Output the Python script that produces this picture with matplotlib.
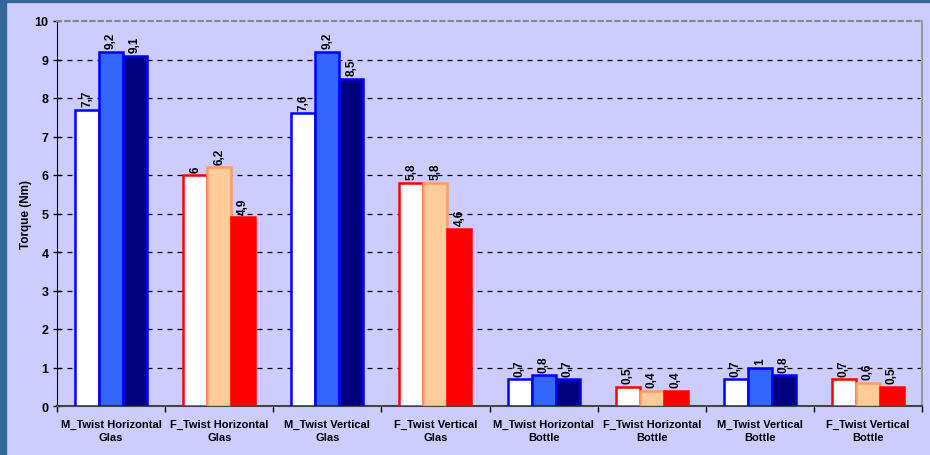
import matplotlib.pyplot as plt
import matplotlib.patches as patches
import numpy as np

plt.rcParams['font.family'] = ['Liberation Sans', 'DejaVu Sans']

# Torque per test setup, three trials each
categories = ['M_Twist Horizontal\nGlas', 'F_Twist Horizontal\nGlas',
              'M_Twist Vertical\nGlas', 'F_Twist Vertical\nGlas',
              'M_Twist Horizontal\nBottle', 'F_Twist Horizontal\nBottle',
              'M_Twist Vertical\nBottle', 'F_Twist Vertical\nBottle']
trial1 = [7.7, 6.0, 7.6, 5.8, 0.7, 0.5, 0.7, 0.7]
trial2 = [9.2, 6.2, 9.2, 5.8, 0.8, 0.4, 1.0, 0.6]
trial3 = [9.1, 4.9, 8.5, 4.6, 0.7, 0.4, 0.8, 0.5]

# colours for male (M_) and female (F_) groups
m_fill = ['white', '#3366FF', '#000080']
f_fill = ['white', '#FFCC99', '#FF0000']
m_edge = ['#0000FF', '#0000FF', '#0000FF']
f_edge = ['#FF0000', '#FF9966', '#FF0000']

bg = '#CCCCFF'
fig = plt.figure(figsize=(9.3, 4.56), dpi=100, facecolor=bg)

# dark frame strips on the left and top
fig.add_artist(patches.Rectangle((0, 0), 6 / 930, 1, transform=fig.transFigure,
                                 color='#336699', zorder=0))
fig.add_artist(patches.Rectangle((0, 1 - 3 / 456), 1, 3 / 456, transform=fig.transFigure,
                                 color='#336699', zorder=0))

ax = fig.add_axes([57 / 930, 1 - 407 / 456, 865 / 930, 385 / 456])
ax.set_facecolor(bg)

x = np.arange(len(categories))
w = 0.222
series = [trial1, trial2, trial3]
for k, vals in enumerate(series):
    for i, v in enumerate(vals):
        male = categories[i].startswith('M_')
        fc = m_fill[k] if male else f_fill[k]
        ec = m_edge[k] if male else f_edge[k]
        xpos = x[i] + (k - 1) * w
        ax.bar(xpos, v, width=w, color=fc, edgecolor=ec, linewidth=1.8, zorder=3)
        ax.text(xpos, v + 0.09, f'{v:g}'.replace('.', ','), rotation=90,
                ha='center', va='bottom', fontsize=8.5, fontweight='bold', zorder=4)

ax.set_xlim(-0.5, len(categories) - 0.5)
ax.set_ylim(0, 10)
ax.set_yticks(range(0, 11))
ax.tick_params(axis='y', labelsize=9, length=6, direction='inout', width=1, pad=3)
for lab in ax.get_yticklabels():
    lab.set_fontweight('bold')

# category labels between boundary ticks
ax.set_xticks(np.arange(-0.5, len(categories), 1.0))
ax.set_xticklabels([])
ax.set_xticks(x, minor=True)
ax.set_xticklabels(categories, minor=True, fontsize=8, fontweight='bold', linespacing=1.45)
ax.tick_params(axis='x', which='minor', length=0, pad=9)
ax.tick_params(axis='x', which='major', length=4, direction='out', width=1)

ax.set_ylabel('Torque (Nm)', fontsize=8.5, fontweight='bold')
ax.yaxis.set_label_coords(-0.029, 0.5)

for yv in range(1, 10):
    ax.axhline(yv, color='black', linestyle=(0, (4, 4)), linewidth=0.9, zorder=1)

ax.spines['top'].set_color('#888888')
ax.spines['top'].set_linestyle((0, (2, 2)))
ax.spines['top'].set_linewidth(1.5)
ax.spines['right'].set_color('#999999')
ax.spines['right'].set_linewidth(1.5)
ax.spines['left'].set_color('black')
ax.spines['bottom'].set_color('#444444')
ax.spines['bottom'].set_linewidth(1.5)

fig.savefig('out.png', dpi=100, facecolor=bg)
